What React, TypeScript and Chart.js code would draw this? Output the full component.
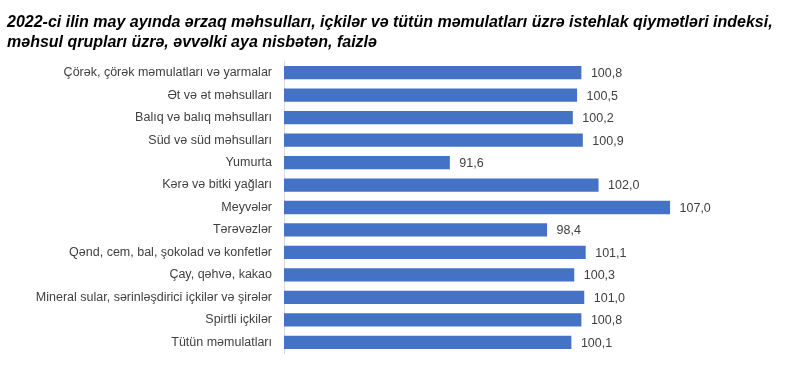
import React, { useEffect, useRef } from "react";
import { Chart, registerables } from "chart.js";

Chart.register(...registerables);

const titleLines = [
  "2022-ci ilin may ayında ərzaq məhsulları, içkilər və tütün məmulatları üzrə istehlak qiymətləri indeksi,",
  "məhsul qrupları üzrə, əvvəlki aya nisbətən, faizlə",
];

const categories = [
  "Çörək, çörək məmulatları və yarmalar",
  "Ət və ət məhsulları",
  "Balıq və balıq məhsulları",
  "Süd və süd məhsulları",
  "Yumurta",
  "Kərə və bitki yağları",
  "Meyvələr",
  "Tərəvəzlər",
  "Qənd, cem, bal, şokolad və konfetlər",
  "Çay, qəhvə, kakao",
  "Mineral sular, sərinləşdirici içkilər və şirələr",
  "Spirtli içkilər",
  "Tütün məmulatları",
];

const values = [100.8, 100.5, 100.2, 100.9, 91.6, 102.0, 107.0, 98.4, 101.1, 100.3, 101.0, 100.8, 100.1];

const xMin = 80;
const xMax = 115.6;

const FONT = "'Liberation Sans', Arial, sans-serif";

const dataLabels = {
  id: "dataLabels",
  afterDatasetsDraw(chart: any) {
    const ctx = chart.ctx;
    const meta = chart.getDatasetMeta(0);
    ctx.save();
    ctx.font = `12.5px ${FONT}`;
    ctx.fillStyle = "#404040";
    ctx.textAlign = "left";
    ctx.textBaseline = "middle";
    meta.data.forEach((bar: any, i: number) => {
      const txt = values[i].toFixed(1).replace(".", ",");
      ctx.fillText(txt, bar.x + 9.5, bar.y + 1);
    });
    ctx.restore();
  },
};

export default function App() {
  const ref = useRef<HTMLCanvasElement | null>(null);
  useEffect(() => {
    if (!ref.current) return;
    const chart = new Chart(ref.current, {
      type: "bar",
      data: {
        labels: categories,
        datasets: [
          {
            data: values,
            backgroundColor: "#4472C4",
            borderWidth: 0,
            barPercentage: 0.59,
            categoryPercentage: 1,
          },
        ],
      },
      options: {
        indexAxis: "y",
        animation: false,
        responsive: true,
        maintainAspectRatio: false,
        layout: { padding: { left: 7, right: 7, top: 0, bottom: 11 } },
        plugins: {
          legend: { display: false },
          tooltip: { enabled: false },
          title: {
            display: true,
            text: titleLines,
            align: "start",
            color: "#000000",
            font: { family: FONT, size: 16, weight: "bold", style: "italic", lineHeight: 1.25 },
            padding: { top: 12.5, bottom: 9 },
          },
        },
        scales: {
          x: { display: false, min: xMin, max: xMax },
          y: {
            grid: { display: false, drawTicks: false },
            border: { display: true, color: "#d9d9d9", width: 1 },
            ticks: {
              color: "#404040",
              font: { family: FONT, size: 12.5 },
              padding: 12,
            },
            afterFit: (s: any) => {
              s.width = 277;
            },
          },
        },
      },
      plugins: [dataLabels],
    });
    return () => chart.destroy();
  }, []);
  return (
    <div style={{ position: "absolute", left: 0, top: 0, width: 800, height: 373, background: "#fff" }}>
      <canvas ref={ref} />
    </div>
  );
}
